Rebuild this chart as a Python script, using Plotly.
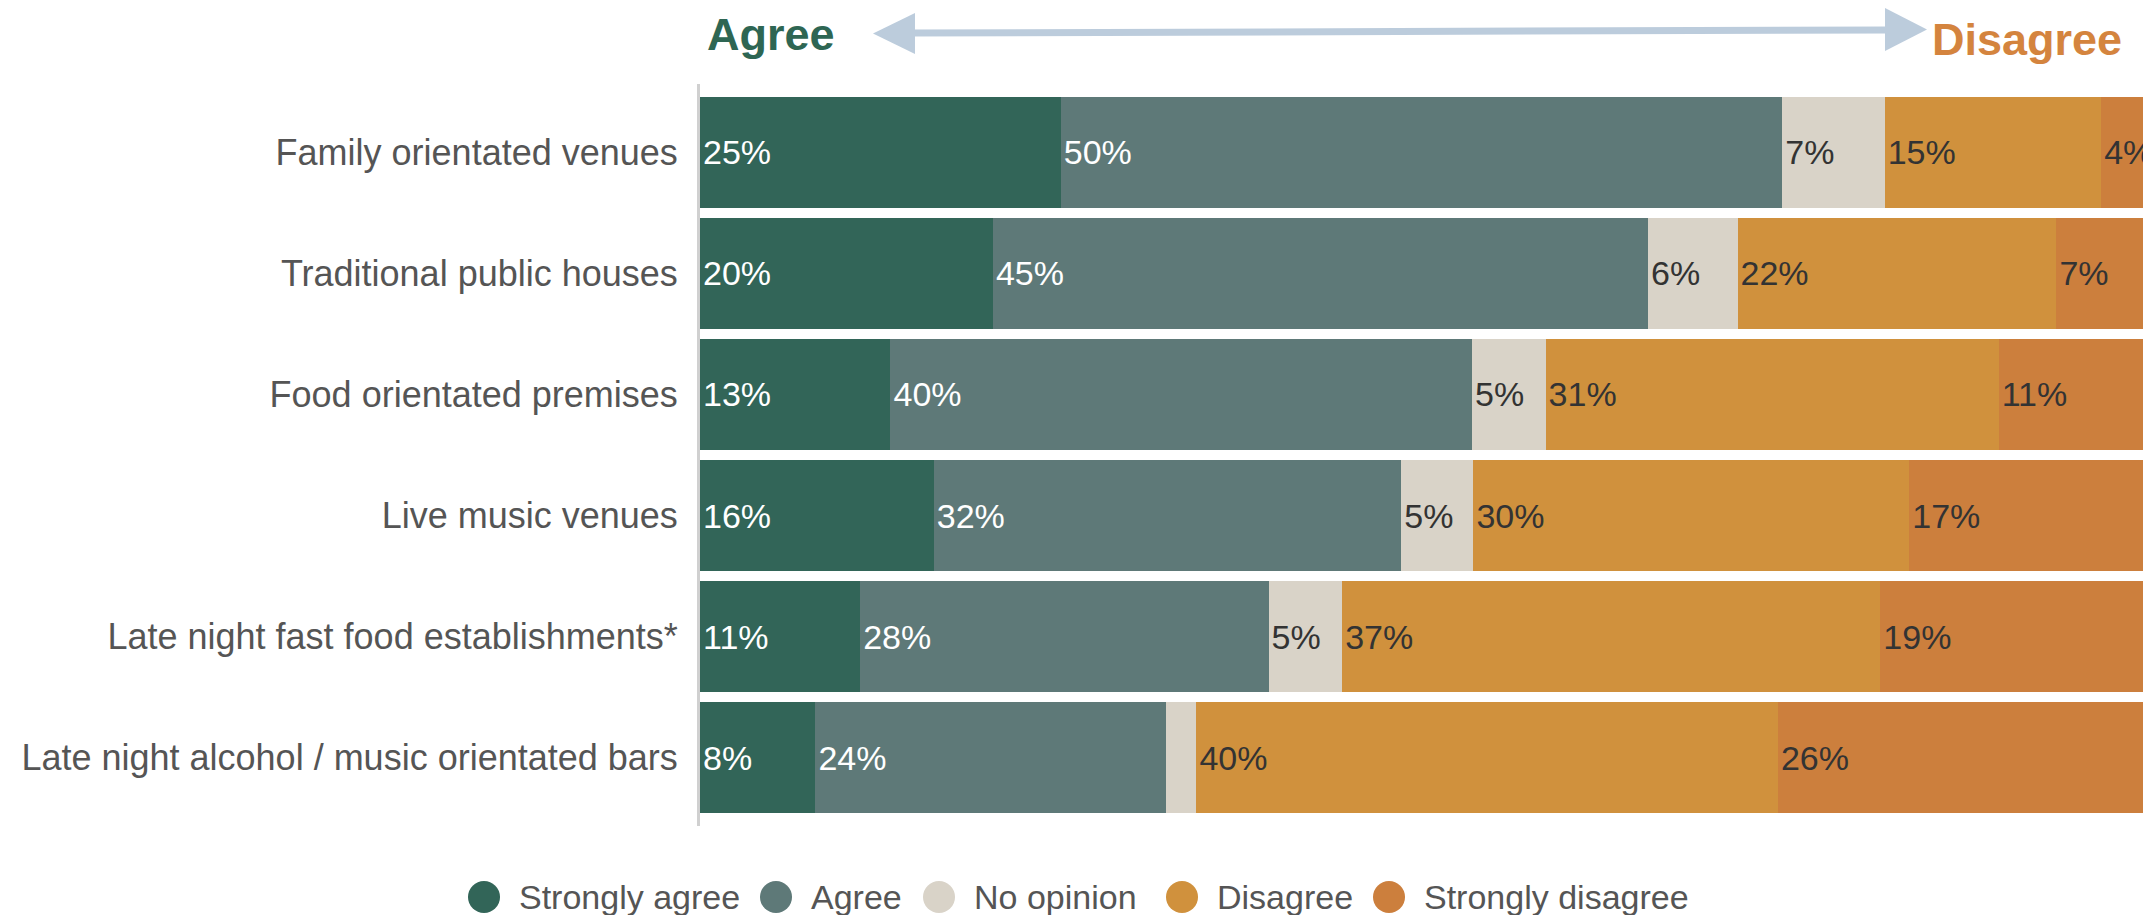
import plotly.graph_objects as go

categories = [
    "Family orientated venues",
    "Traditional public houses",
    "Food orientated premises",
    "Live music venues",
    "Late night fast food establishments*",
    "Late night alcohol / music orientated bars",
]
series_names = ["Strongly agree", "Agree", "No opinion", "Disagree", "Strongly disagree"]
strongly_agree = [25.0, 20.3, 13.2, 16.2, 11.1, 8.0]
agree = [50.0, 45.4, 40.3, 32.4, 28.3, 24.3]
no_opinion = [7.1, 6.2, 5.1, 5.0, 5.1, 2.1]
disagree = [15.0, 22.1, 31.4, 30.2, 37.3, 40.3]
strongly_disagree = [4.0, 7.0, 11.0, 17.0, 19.0, 26.0]

colors = ["#326558", "#5E7978", "#D9D3C8", "#D0913D", "#CC7F3D"]
label_colors = ["#FFFFFF", "#FFFFFF", "#333333", "#333333", "#333333"]

W, H = 2143, 915
L, R, T, B = 700, 0, 84, 89
PW, PH = W - L - R, H - T - B

def px(x):
    return (x - L) / PW

def py(y):
    return (H - B - y) / PH

FONT = "Arial, Liberation Sans, sans-serif"

fig = go.Figure()
for name, vals, col, lc in zip(series_names,
                               [strongly_agree, agree, no_opinion, disagree, strongly_disagree],
                               colors, label_colors):
    fig.add_trace(go.Bar(
        y=categories, x=vals, name=name, orientation="h",
        marker=dict(color=col, line=dict(width=0)),
        texttemplate="%{x:.0f}%", textposition="inside", insidetextanchor="start",
        textangle=0, textfont=dict(family=FONT, size=34, color=lc),
        showlegend=False, hoverinfo="x+y+name",
    ))

fig.update_layout(
    width=W, height=H, barmode="stack", bargap=0.083,
    margin=dict(l=L, r=R, t=T, b=B),
    plot_bgcolor="white", paper_bgcolor="white",
    uniformtext=dict(minsize=33, mode="hide"),
    xaxis=dict(range=[0, 100], visible=False, fixedrange=True),
    yaxis=dict(categoryorder="array", categoryarray=categories,
               range=[5.565, -0.565], showline=True, linecolor="#D0D0D0", linewidth=3,
               ticks="", showgrid=False, ticklabelstandoff=12,
               tickfont=dict(family=FONT, size=36, color="#555555")),
    font=dict(family=FONT),
)

# Custom legend with large circles
legend_cx = [484, 776, 939, 1182, 1389]
legend_cy = 897
rad = 16
shapes = []
annotations = []
for name, col, cx in zip(series_names, colors, legend_cx):
    shapes.append(dict(type="circle", xref="paper", yref="paper",
                       x0=px(cx - rad), x1=px(cx + rad), y0=py(legend_cy + rad), y1=py(legend_cy - rad),
                       fillcolor=col, line=dict(width=0)))
    annotations.append(dict(text=name, xref="paper", yref="paper", x=px(cx + 33), y=py(legend_cy),
                            xanchor="left", yanchor="middle", showarrow=False,
                            font=dict(family=FONT, size=34, color="#555555")))

# Header arrow
arrow_col = "#BCCCDC"
shapes.append(dict(type="line", xref="paper", yref="paper",
                   x0=px(910), y0=py(33), x1=px(1890), y1=py(30),
                   line=dict(color=arrow_col, width=7)))
shapes.append(dict(type="path", xref="paper", yref="paper",
                   path=f"M {px(873)} {py(33.5)} L {px(915)} {py(13)} L {px(915)} {py(54)} Z",
                   fillcolor=arrow_col, line=dict(width=0)))
shapes.append(dict(type="path", xref="paper", yref="paper",
                   path=f"M {px(1927)} {py(29.5)} L {px(1885)} {py(8)} L {px(1885)} {py(51)} Z",
                   fillcolor=arrow_col, line=dict(width=0)))

annotations.append(dict(text="<b>Agree</b>", xref="paper", yref="paper", x=px(705), y=py(34),
                        xanchor="left", yanchor="middle", showarrow=False,
                        font=dict(family=FONT, size=45, color="#2E6653")))
annotations.append(dict(text="<b>Disagree</b>", xref="paper", yref="paper", x=px(1930), y=py(39),
                        xanchor="left", yanchor="middle", showarrow=False,
                        font=dict(family=FONT, size=45, color="#D4843E")))

fig.update_layout(shapes=shapes, annotations=annotations)
fig.write_html("out.html", config={"displayModeBar": False},
               post_script="document.body.style.margin='0';document.body.style.overflow='hidden';")
